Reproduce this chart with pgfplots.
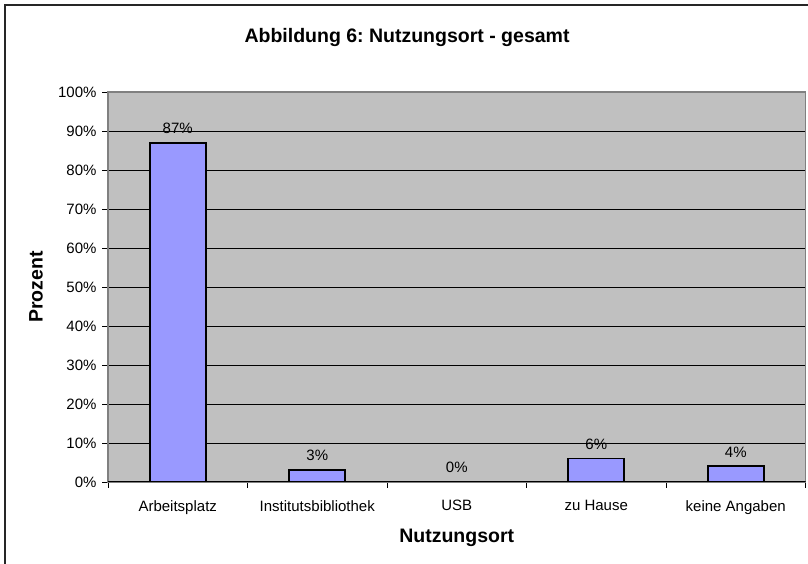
\documentclass[border=0pt]{standalone}
\usepackage{fontspec}
\setmainfont{Liberation Sans}
\usepackage{pgfplots}
\pgfplotsset{compat=1.18}
\definecolor{barfill}{HTML}{9999FF}
\definecolor{plotbg}{HTML}{C0C0C0}
\definecolor{plotframe}{HTML}{808080}
\newcommand{\tickfont}{\fontsize{15bp}{17bp}\selectfont}
\newcommand{\labfont}{\bfseries\fontsize{19.5bp}{22bp}\selectfont}
\frenchspacing
\begin{document}
\begin{tikzpicture}
\useasboundingbox (0,0) rectangle (808bp,564bp);
\draw[line width=1.5bp, black!85] (5bp,0) -- (5bp,559bp) -- (808bp,559bp);
\begin{axis}[
  at={(108bp,82bp)}, anchor=south west,
  scale only axis, width=697.5bp, height=390bp,
  ybar, bar width=0.4,
  xmin=-0.5, xmax=4.5, ymin=0, ymax=100,
  /pgf/number format/assume math mode=true,
  xtick pos=bottom, ytick pos=left,
  xtick={-0.5,0.5,...,4.5}, xticklabels={},
  extra x ticks={0,1,2,3,4},
  extra x tick labels={Arbeitsplatz,Institutsbibliothek,USB,zu Hause,keine Angaben},
  extra x tick style={major tick length=0pt, xticklabel style={yshift=-15bp}},
  ytick={0,10,...,100},
  yticklabels={0\%,10\%,20\%,30\%,40\%,50\%,60\%,70\%,80\%,90\%,100\%},
  yticklabel style={xshift=-2bp},
  tick align=outside, major tick length=6bp,
  tick style={black, line width=0.8bp},
  tick label style={font=\tickfont},
  ymajorgrids, major grid style={black, line width=0.8bp},
  axis line style={plotframe, line width=1.8bp},
  axis background/.style={fill=plotbg},
  title={Abbildung 6: Nutzungsort - gesamt},
  title style={at={(axis description cs:0.4287,1.125)}, anchor=center, font=\labfont},
  xlabel={Nutzungsort},
  xlabel style={at={(axis description cs:0.5,-0.142)}, anchor=center, font=\labfont},
  ylabel={Prozent},
  ylabel style={at={(axis description cs:-0.1032,0.5)}, anchor=center, font=\labfont},
]
\addplot[fill=barfill, draw=black, line width=1.8bp,
  nodes near coords={\pgfmathprintnumber{\pgfplotspointmeta}\%},
  nodes near coords style={font=\tickfont, black, yshift=5bp}]
  coordinates {(0,87) (1,3) (2,0) (3,6) (4,4)};
\draw[black, line width=1bp] (axis cs:-0.5,0) -- (axis cs:4.5,0);
\end{axis}
\end{tikzpicture}
\end{document}
